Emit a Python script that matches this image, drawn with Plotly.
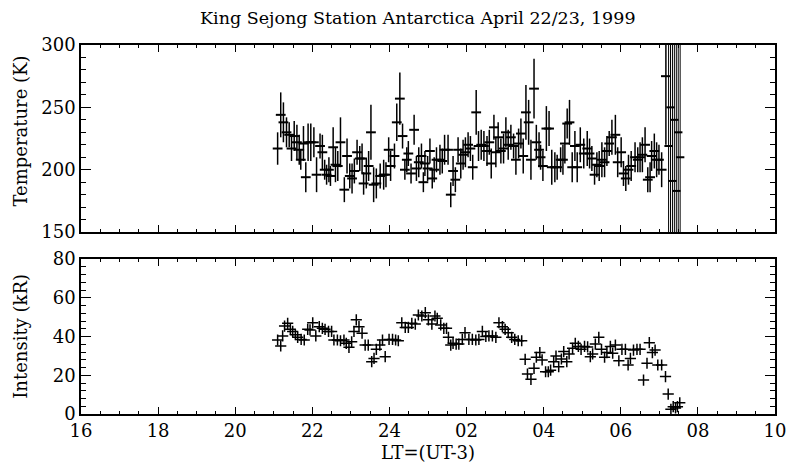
import plotly.graph_objects as go
from plotly.subplots import make_subplots

# ---------------- data ----------------
temp_time = [
    21.10, 21.18, 21.25, 21.33, 21.40, 21.46, 21.53, 21.60, 21.66, 21.70,
    21.77, 21.83, 21.89, 21.96, 22.04, 22.11, 22.20, 22.26, 22.32, 22.37,
    22.43, 22.47, 22.54, 22.60, 22.66, 22.73, 22.83, 22.90, 22.97, 23.03,
    23.09, 23.16, 23.23, 23.29, 23.33, 23.40, 23.46, 23.52, 23.59, 23.66,
    23.76, 23.85, 23.91, 23.98, 24.03, 24.13, 24.19, 24.27, 24.34, 24.40,
    24.45, 24.49, 24.56, 24.64, 24.70, 24.76, 24.83, 24.88, 24.92, 24.99,
    25.05, 25.11, 25.16, 25.22, 25.31, 25.37, 25.43, 25.52, 25.59, 25.65,
    25.71, 25.78, 25.85, 25.91, 25.97, 26.04, 26.10, 26.16, 26.25, 26.31,
    26.38, 26.45, 26.53, 26.59, 26.64, 26.71, 26.76, 26.82, 26.89, 26.96,
    27.02, 27.08, 27.15, 27.22, 27.28, 27.35, 27.41, 27.47, 27.54, 27.61,
    27.67, 27.75, 27.81, 27.88, 27.92, 27.98, 28.07, 28.14, 28.21, 28.29,
    28.35, 28.44, 28.50, 28.55, 28.61, 28.67, 28.74, 28.81, 28.87, 28.95,
    29.04, 29.13, 29.19, 29.25, 29.32, 29.38, 29.44, 29.51, 29.58, 29.64,
    29.70, 29.77, 29.86, 29.92, 30.01, 30.07, 30.13, 30.20, 30.27, 30.37,
    30.44, 30.50, 30.56, 30.63, 30.70, 30.76, 30.80, 30.87, 30.93, 30.99,
    31.06, 31.17, 31.24, 31.29, 31.34, 31.39, 31.44, 31.49, 31.54,
]
temperature = [
    217, 244, 238, 230, 228, 217, 227, 222, 216, 208,
    221, 194, 222, 222, 222, 196, 219, 214, 200, 196,
    200, 195, 218, 204, 203, 222, 184, 211, 195, 193,
    199, 214, 209, 209, 189, 197, 203, 230, 188, 189,
    195, 196, 196, 216, 203, 211, 238, 257, 227, 200,
    208, 213, 197, 232, 201, 206, 211, 190, 205, 201,
    215, 193, 200, 208, 208, 207, 216, 216, 180, 199,
    192, 216, 205, 212, 214, 220, 217, 202, 246, 219,
    220, 219, 215, 222, 205, 234, 214, 226, 215, 217,
    230, 220, 226, 219, 208, 221, 229, 211, 246, 238,
    208, 265, 222, 216, 210, 203, 233, 233, 202, 202,
    202, 208, 208, 221, 237, 238, 202, 219, 202, 220,
    213, 217, 213, 209, 196, 204, 203, 208, 206, 215,
    221, 226, 228, 206, 214, 197, 193, 200, 203, 210,
    208, 210, 212, 220, 192, 194, 211, 215, 208, 208,
    200, 275, 219, 250, 191, 240, 183, 230, 210,
]
temp_error = [
    13, 18, 16, 12, 10, 10, 12, 14, 12, 8,
    14, 12, 15, 15, 12, 14, 10, 14, 8, 8,
    10, 8, 16, 14, 12, 20, 10, 14, 10, 12,
    10, 10, 10, 12, 9, 12, 12, 22, 14, 12,
    10, 12, 10, 10, 12, 10, 15, 21, 10, 8,
    10, 10, 8, 12, 10, 12, 10, 8, 10, 10,
    10, 8, 10, 10, 12, 10, 12, 12, 10, 12,
    10, 10, 12, 12, 12, 10, 10, 10, 18, 12,
    12, 12, 12, 10, 12, 10, 12, 12, 10, 12,
    12, 12, 10, 10, 12, 12, 12, 14, 22, 18,
    16, 24, 14, 14, 10, 12, 18, 14, 14, 12,
    10, 10, 12, 16, 12, 18, 12, 12, 12, 14,
    12, 14, 12, 10, 8, 10, 12, 14, 12, 12,
    10, 14, 16, 12, 12, 10, 10, 12, 12, 12,
    10, 12, 14, 14, 10, 12, 12, 14, 14, 12,
    14, 55, 160, 160, 160, 160, 160, 160, 160,
]

int_time = [
    21.10, 21.18, 21.23, 21.28, 21.36, 21.43, 21.49, 21.56, 21.62, 21.71,
    21.79, 21.88, 21.94, 22.01, 22.09, 22.18, 22.26, 22.33, 22.42, 22.50,
    22.56, 22.65, 22.73, 22.82, 22.88, 22.95, 23.02, 23.08, 23.14, 23.21,
    23.29, 23.37, 23.45, 23.54, 23.60, 23.66, 23.75, 23.82, 23.89, 23.99,
    24.08, 24.16, 24.23, 24.32, 24.41, 24.49, 24.58, 24.67, 24.75, 24.84,
    24.93, 25.01, 25.10, 25.18, 25.24, 25.33, 25.41, 25.48, 25.53, 25.59,
    25.65, 25.73, 25.80, 25.89, 25.96, 26.06, 26.15, 26.24, 26.32, 26.41,
    26.50, 26.58, 26.67, 26.76, 26.84, 26.93, 27.00, 27.08, 27.17, 27.25,
    27.34, 27.43, 27.52, 27.58, 27.67, 27.75, 27.81, 27.90, 27.96, 28.05,
    28.12, 28.18, 28.26, 28.32, 28.39, 28.46, 28.52, 28.60, 28.66, 28.75,
    28.82, 28.90, 28.97, 29.06, 29.14, 29.21, 29.27, 29.34, 29.43, 29.50,
    29.58, 29.64, 29.73, 29.79, 29.86, 29.95, 30.03, 30.12, 30.19, 30.25,
    30.33, 30.42, 30.50, 30.59, 30.68, 30.74, 30.82, 30.89, 30.96, 31.06,
    31.16, 31.23, 31.30, 31.36, 31.42, 31.47, 31.53,
]
intensity = [
    38.2, 35.1, 40.3, 45.4, 46.8, 43.7, 42.6, 40.9, 39.6, 38.5,
    38.2, 43.7, 43.4, 47.1, 40.3, 45.1, 44.2, 43.7, 42.6, 42.6,
    38.2, 38.2, 37.8, 38.2, 36.5, 34.4, 37.3, 42.6, 48.6, 45.1,
    41.7, 35.6, 35.6, 27.0, 28.7, 33.4, 35.6, 38.2, 29.6, 38.5,
    38.5, 38.2, 37.8, 47.1, 44.7, 44.7, 46.8, 46.4, 51.1, 50.6,
    52.3, 48.6, 46.4, 50.6, 49.4, 46.0, 44.2, 44.2, 39.6, 35.6,
    36.5, 36.1, 36.1, 38.5, 42.0, 38.5, 38.5, 38.2, 38.5, 42.6,
    40.0, 40.3, 40.3, 39.6, 47.1, 45.1, 43.7, 42.0, 39.6, 38.5,
    37.8, 37.8, 28.2, 20.6, 17.9, 23.6, 29.3, 31.7, 27.9, 21.8,
    21.8, 22.6, 27.0, 29.9, 24.4, 28.4, 32.2, 27.0, 31.0, 33.9,
    36.5, 34.9, 33.4, 34.9, 34.6, 29.6, 31.0, 36.1, 39.6, 33.4,
    29.3, 31.7, 34.9, 31.4, 35.6, 27.5, 33.4, 33.4, 25.3, 28.7,
    33.0, 33.4, 33.4, 17.5, 26.2, 36.8, 31.7, 33.0, 25.3, 25.3,
    19.3, 10.3, 2.4, 3.8, 3.1, 3.8, 5.8,
]

x_tick_vals = [16, 18, 20, 22, 24, 26, 28, 30, 32, 34]
x_tick_text = ["16", "18", "20", "22", "24", "02", "04", "06", "08", "10"]
temp_ticks = [150, 200, 250, 300]
int_ticks = [0, 20, 40, 60, 80]

# number of final points whose error bars fill the whole panel
n_saturated = 7

# ---------------- figure ----------------
FONT = "DejaVu Serif"
fig = make_subplots(rows=2, cols=1, shared_xaxes=False, vertical_spacing=0.0)

split = len(temp_time) - n_saturated
fig.add_trace(go.Scatter(
    x=temp_time[:split], y=temperature[:split], mode="markers",
    marker=dict(symbol="line-ew", size=7, color="black",
                line=dict(color="black", width=2)),
    error_y=dict(type="data", array=temp_error[:split], visible=True,
                 color="black", thickness=1.5, width=0),
    showlegend=False), row=1, col=1)

fig.add_trace(go.Scatter(
    x=temp_time[split:], y=temperature[split:], mode="markers",
    marker=dict(symbol="line-ew", size=6, color="black",
                line=dict(color="black", width=2)),
    error_y=dict(type="data", array=temp_error[split:], visible=True,
                 color="black", thickness=1.0, width=0),
    showlegend=False), row=1, col=1)

fig.add_trace(go.Scatter(
    x=int_time, y=intensity, mode="markers",
    marker=dict(symbol="cross-thin", size=8, color="black",
                line=dict(color="black", width=1.5)),
    showlegend=False), row=2, col=1)

axis_common = dict(
    showline=True, linecolor="black", linewidth=1.6, mirror="allticks",
    ticks="inside", tickcolor="black", tickwidth=1.2,
    showgrid=False, zeroline=False,
    tickfont=dict(family=FONT, size=18, color="black"),
)

fig.update_xaxes(range=[16, 34], tickvals=x_tick_vals, ticktext=x_tick_text,
                 ticklen=7, minor=dict(dtick=0.5, ticks="inside", ticklen=3,
                                       tickcolor="black", showgrid=False),
                 **axis_common)
fig.update_xaxes(showticklabels=False, row=1, col=1)
fig.update_xaxes(showticklabels=True, row=2, col=1)

fig.update_yaxes(range=[150, 300], tickvals=temp_ticks, ticklen=10,
                 minor=dict(dtick=10, ticks="inside", ticklen=5,
                            tickcolor="black", showgrid=False),
                 row=1, col=1, **axis_common)
fig.update_yaxes(range=[0, 80], tickvals=int_ticks, ticklen=10,
                 minor=dict(dtick=4, ticks="inside", ticklen=5,
                            tickcolor="black", showgrid=False),
                 row=2, col=1, **axis_common)

fig.update_layout(
    width=798, height=466,
    margin=dict(l=81, r=16, t=45, b=52),
    paper_bgcolor="white", plot_bgcolor="white",
    xaxis=dict(domain=[0, 1]), xaxis2=dict(domain=[0, 1]),
    yaxis=dict(domain=[0.493, 1.0]),
    yaxis2=dict(domain=[0.0, 0.42]),
    font=dict(family=FONT, color="black"),
    annotations=[
        dict(text="King Sejong Station Antarctica April 22/23, 1999",
             xref="paper", yref="paper", x=0.485, y=1.073,
             xanchor="center", yanchor="middle", showarrow=False,
             font=dict(family=FONT, size=17.5, color="black")),
        dict(text="LT=(UT-3)", xref="paper", yref="paper", x=0.5, y=-0.103,
             xanchor="center", yanchor="middle", showarrow=False,
             font=dict(family=FONT, size=18, color="black")),
        dict(text="Temperature (K)", xref="paper", yref="paper", x=-0.087,
             y=0.767, xanchor="center", yanchor="middle", textangle=-90,
             showarrow=False, font=dict(family=FONT, size=18, color="black")),
        dict(text="Intensity (kR)", xref="paper", yref="paper", x=-0.087,
             y=0.211, xanchor="center", yanchor="middle", textangle=-90,
             showarrow=False, font=dict(family=FONT, size=18, color="black")),
    ],
)

fig.write_html("out.html")
